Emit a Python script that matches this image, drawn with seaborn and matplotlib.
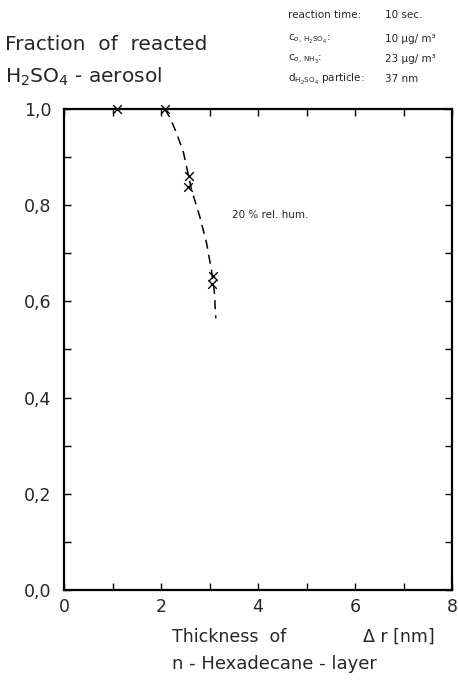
import numpy as np
import pandas as pd
import matplotlib
matplotlib.use("Agg")
import matplotlib.pyplot as plt
from matplotlib.ticker import MultipleLocator, FuncFormatter
import seaborn as sns

# -------------------
# Data
# -------------------
thickness_pts = [1.1, 2.08, 2.57, 2.56, 3.07, 3.06]
fraction_pts = [1.0, 1.0, 0.86, 0.837, 0.652, 0.636]

# hand drawn dashed trend (20 % rel. hum.)
curve_x = [2.08, 2.19, 2.32, 2.46, 2.63, 2.80, 2.94, 3.04, 3.10, 3.13]
curve_y = [1.0, 0.981, 0.95, 0.911, 0.832, 0.776, 0.721, 0.665, 0.62, 0.565]

x_ticks = [0, 2, 4, 6, 8]
y_ticks = [0.0, 0.2, 0.4, 0.6, 0.8, 1.0]

df_pts = pd.DataFrame({"thickness": thickness_pts, "fraction": fraction_pts})
df_curve = pd.DataFrame({"thickness": curve_x, "fraction": curve_y})

# -------------------
# Plot
# -------------------
sns.set_theme(style="ticks")
plt.rcParams['font.family'] = ['DejaVu Sans']
plt.rcParams['mathtext.fontset'] = 'dejavusans'

ink = "#262626"

fig = plt.figure(figsize=(4.58, 6.81), dpi=100)
ax = fig.add_axes([64 / 458, 1 - 590 / 681, 388 / 458, 481 / 681])

sns.lineplot(data=df_curve, x="thickness", y="fraction", ax=ax, color="black",
             linestyle=(0, (6, 4)), linewidth=1.1, sort=False)
sns.scatterplot(data=df_pts, x="thickness", y="fraction", ax=ax, marker="x",
                color="black", s=38, linewidth=1.0, zorder=5, clip_on=False)

ax.set_xlim(0, 8)
ax.set_ylim(0, 1.0)
ax.set_xticks(x_ticks)
ax.set_yticks(y_ticks)
ax.xaxis.set_minor_locator(MultipleLocator(1))
ax.yaxis.set_minor_locator(MultipleLocator(0.1))
ax.yaxis.set_major_formatter(FuncFormatter(lambda v, p: f"{v:.1f}".replace(".", ",")))
ax.tick_params(which="both", direction="in", top=True, right=True, length=5,
               width=1.0, color="black")
ax.tick_params(axis="both", which="major", labelsize=12.5, labelcolor=ink)
ax.tick_params(axis="y", which="major", pad=9)
ax.tick_params(axis="x", which="major", pad=6)
for sp in ax.spines.values():
    sp.set_linewidth(1.6)
    sp.set_color("black")
ax.set_xlabel("")
ax.set_ylabel("")

ax.text(3.47, 0.78, "20 % rel. hum.", fontsize=7.5, va="center", ha="left", color=ink)

# titles / annotations
fig.text(5 / 458, 1 - 45 / 681, "Fraction  of  reacted", fontsize=14.5, va="center",
         color=ink)
fig.text(5 / 458, 1 - 77 / 681, r"H$_2$SO$_4$ - aerosol", fontsize=14.5, va="center",
         color=ink)

info_rows = [
    ("reaction time:", "10 sec.", 15),
    (r"c$_{o,\,\mathregular{H_2SO_4}}$:", "10 µg/ m³", 39),
    (r"c$_{o,\,\mathregular{NH_3}}$:", "23 µg/ m³", 59),
    (r"d$_{\mathregular{H_2SO_4}}$ particle:", "37 nm", 79),
]
for lbl, val, ypx in info_rows:
    fig.text(288 / 458, 1 - ypx / 681, lbl, fontsize=7.5, va="center", color=ink)
    fig.text(385 / 458, 1 - ypx / 681, val, fontsize=7.5, va="center", color=ink)

fig.text(172 / 458, 1 - 637 / 681, "Thickness  of", fontsize=12.5, va="center",
         color=ink)
fig.text(363 / 458, 1 - 637 / 681, "Δ r [nm]", fontsize=12.5, va="center",
         color=ink)
fig.text(172 / 458, 1 - 664 / 681, "n - Hexadecane - layer", fontsize=13,
         va="center", color=ink)

fig.savefig("out.png", dpi=100)
